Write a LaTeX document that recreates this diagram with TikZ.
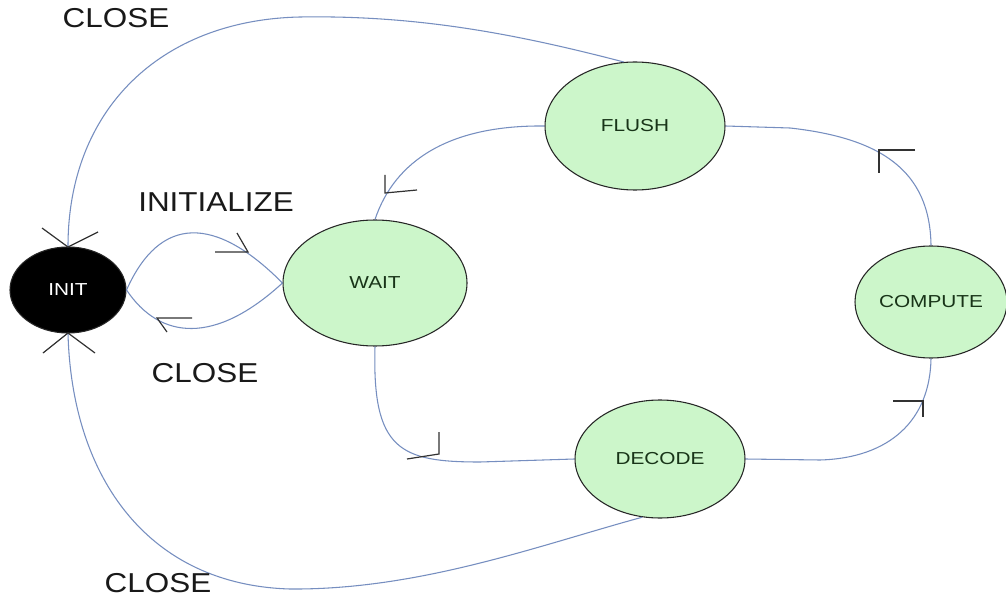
\documentclass[tikz,border=0pt]{standalone}
\usepackage{fontspec}
\setmainfont{Liberation Sans}
\usepackage{graphicx}
\usetikzlibrary{shapes.geometric}
\newcommand\pxu{0.75pt}
\newcommand\wide[2]{\scalebox{#1}[1]{#2}}
\definecolor{wirecol}{RGB}{118,142,192}
\definecolor{statefill}{RGB}{204,246,202}
\definecolor{statetext}{RGB}{24,52,24}
\definecolor{tickcol}{RGB}{50,50,50}
\tikzset{
  state/.style={ellipse, draw=black!85, line width=0.8pt, fill=statefill,
    inner sep=0pt, text=statetext, font=\fontsize{13}{15}\selectfont},
  wire/.style={draw=wirecol, line width=0.8pt},
  tick/.style={draw=tickcol, line width=0.9pt},
  tlabel/.style={font=\fontsize{20.5}{24}\selectfont, text=black!90, inner sep=0pt},
}
\begin{document}
\begin{tikzpicture}[x=\pxu, y=-\pxu]
\useasboundingbox (0,0) rectangle (1006,602);
\fill[white] (0,0) rectangle (1006,602);

% states
\node[state, fill=black, text=white, minimum width={116*\pxu}, minimum height={86*\pxu}]
  (init) at (68,290) {\wide{1.2}{INIT}};
\node[state, minimum width={184*\pxu}, minimum height={126*\pxu}] (wait) at (375,283) {\wide{1.2}{WAIT}};
\node[state, minimum width={180*\pxu}, minimum height={128*\pxu}] (flush) at (635,126) {\wide{1.2}{FLUSH}};
\node[state, minimum width={152*\pxu}, minimum height={112*\pxu}] (compute) at (931,302) {\wide{1.2}{COMPUTE}};
\node[state, minimum width={170*\pxu}, minimum height={118*\pxu}] (decode) at (660,459) {\wide{1.2}{DECODE}};

% transitions
\draw[wire] (flush.100) .. controls (520,35) and (420,15) .. (300,17)
  .. controls (160,20) and (68,110) .. (init.north);
\draw[wire] (decode.253) .. controls (540,545) and (420,590) .. (290,589)
  .. controls (150,585) and (72,480) .. (init.south);
\draw[wire] (init.east) .. controls (160,215) and (215,215) .. (wait.west);
\draw[wire] (wait.west) .. controls (215,345) and (160,340) .. (init.east);
\draw[wire] (wait.south) .. controls (372,450) and (400,462) .. (480,462) -- (decode.west);
\draw[wire] (decode.east) -- (820,460) .. controls (890,458) and (930,420) .. (compute.south);
\draw[wire] (compute.north) .. controls (930,170) and (880,138) .. (790,128) -- (flush.east);
\draw[wire] (flush.west) .. controls (450,125) and (395,160) .. (wait.north);

% direction ticks
\draw[tick] (42,228) -- (68,247) -- (98,232);
\draw[tick] (43,353) -- (68,333) -- (95,353);
\draw[tick] (215,252) -- (248,252) -- (237,233);
\draw[tick] (192,318) -- (157,318) -- (167,332);
\draw[tick] (439,432) -- (439,454) -- (407,459);
\draw[tick] (893,401) -- (923,401) -- (923,417);
\draw[tick] (915,150) -- (879,150) -- (879,173);
\draw[tick] (385,175) -- (385,193) -- (417,190);

% transition labels
\node[tlabel] (lclosetop) at (116,18) {\wide{1.15}{CLOSE}};
\node[tlabel] (linit) at (216,202) {\wide{1.15}{INITIALIZE}};
\node[tlabel] (lclosemid) at (205,373) {\wide{1.15}{CLOSE}};
\node[tlabel] (lclosebot) at (158,583) {\wide{1.15}{CLOSE}};
\end{tikzpicture}
\end{document}
